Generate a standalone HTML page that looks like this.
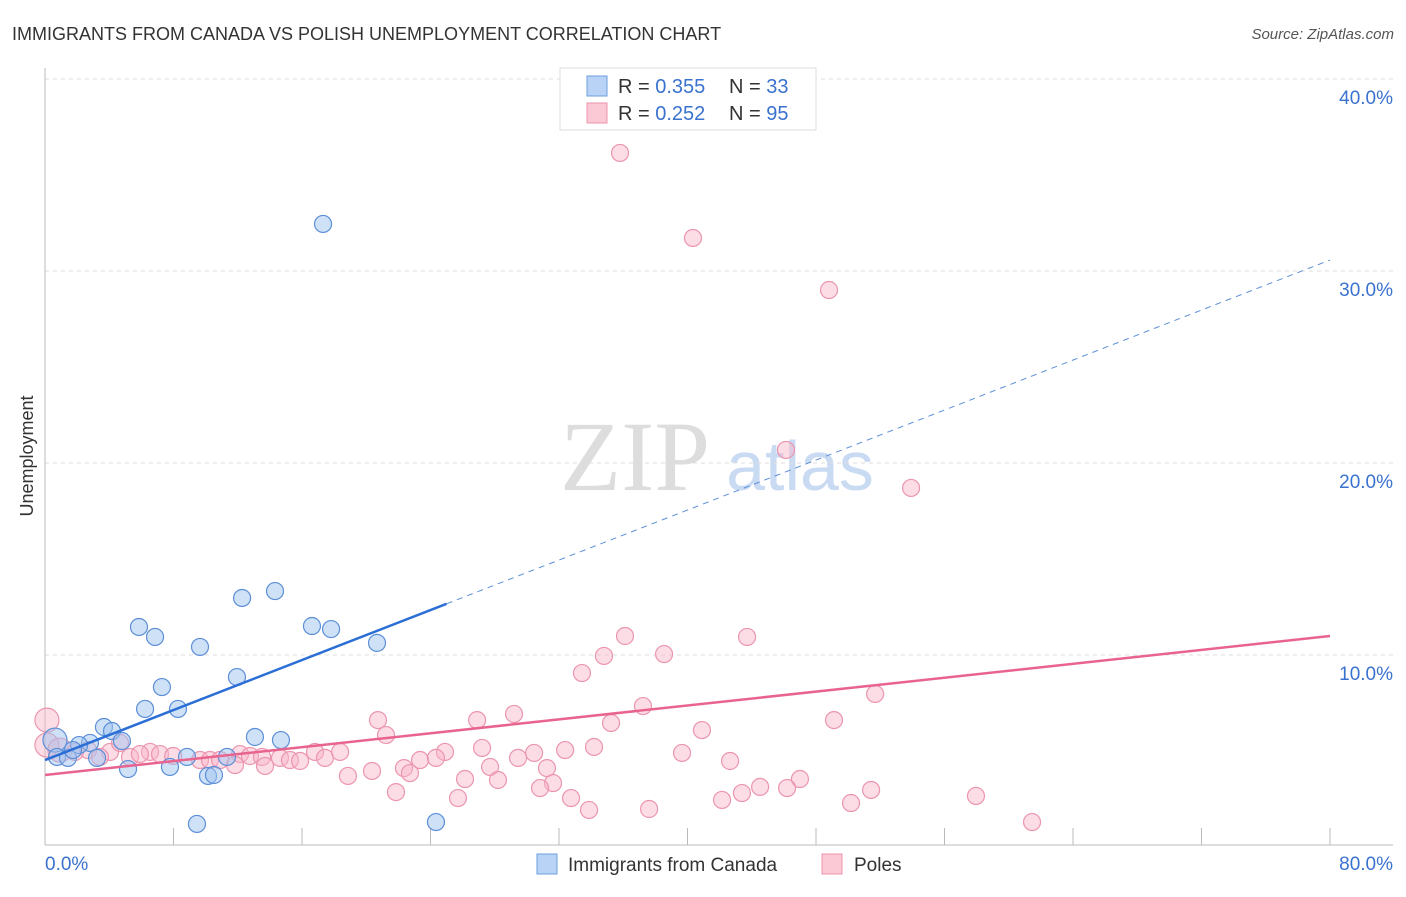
<!DOCTYPE html>
<html><head><meta charset="utf-8"><style>
body{margin:0;background:#fff;font-family:"Liberation Sans",sans-serif}
</style></head><body>
<svg id="chart" width="1406" height="892" xmlns="http://www.w3.org/2000/svg" font-family="Liberation Sans, sans-serif">
<text x="12" y="40" font-size="18" fill="#333">IMMIGRANTS FROM CANADA VS POLISH UNEMPLOYMENT CORRELATION CHART</text>
<text x="1394" y="39" font-size="15" fill="#555" text-anchor="end" font-style="italic">Source: ZipAtlas.com</text>
<text transform="translate(33,456) rotate(-90)" font-size="18" fill="#333" text-anchor="middle">Unemployment</text>
<g>
<text x="635" y="490" font-size="100" fill="#ddd" text-anchor="middle" style="font-family:'Liberation Serif',serif">ZIP</text>
<text x="800" y="490" font-size="70" fill="#c9daf3" text-anchor="middle">atlas</text>
</g>
<g id="grid"></g><g id="axes"></g><g id="marks"></g>
<g>
<rect x="560" y="68" width="256" height="62" fill="#fff" stroke="#ddd"/>
<rect x="587" y="76" width="20" height="20" fill="#b8d3f5" stroke="#6e9fdf"/>
<rect x="587" y="103" width="20" height="20" fill="#fbc8d6" stroke="#eb95ae"/>
<text x="618" y="93" font-size="20" fill="#333">R = <tspan fill="#3a72cf">0.355</tspan></text>
<text x="729" y="93" font-size="20" fill="#333">N = <tspan fill="#3a72cf">33</tspan></text>
<text x="618" y="120" font-size="20" fill="#333">R = <tspan fill="#3a72cf">0.252</tspan></text>
<text x="729" y="120" font-size="20" fill="#333">N = <tspan fill="#3a72cf">95</tspan></text>
</g>
<g>
<rect x="537" y="854" width="20" height="20" fill="#b8d3f5" stroke="#6e9fdf"/>
<text x="568" y="871" font-size="19" fill="#333">Immigrants from Canada</text>
<rect x="822" y="854" width="20" height="20" fill="#fbc8d6" stroke="#eb95ae"/>
<text x="854" y="871" font-size="19" fill="#333">Poles</text>
</g>
</svg>
<script>
const blueX=[17.31,14.32,12.27,5.85,6.85,16.62,17.81,20.67,9.65,11.95,7.28,6.23,8.28,3.67,4.17,13.07,14.69,4.79,2.80,2.12,0.62,0.75,1.43,3.24,1.74,8.84,11.33,5.17,7.78,10.15,10.52,9.46,24.34];
const blueY=[32.45,13.33,12.97,11.46,10.94,11.51,11.35,10.63,10.42,8.85,8.33,7.19,7.19,6.25,6.04,5.73,5.57,5.52,5.42,5.31,5.57,4.69,4.64,4.64,5.05,4.69,4.69,4.06,4.17,3.70,3.75,1.20,1.30];
const pinkX=[35.80,40.34,48.81,46.13,53.92,36.11,43.71,34.80,38.54,33.43,51.68,37.23,20.73,26.90,29.20,35.24,49.12,21.23,40.90,27.21,34.18,30.45,32.38,39.66,42.65,24.90,23.35,24.34,29.45,27.71,22.35,22.72,31.25,20.36,18.86,26.15,28.20,31.63,47.00,44.52,46.20,43.39,42.15,32.75,30.82,21.85,25.71,57.96,51.43,50.18,37.61,33.87,61.45,0.12,0.12,0.93,1.87,2.68,4.05,4.67,5.29,6.54,7.16,7.98,9.65,10.27,10.90,12.14,12.76,13.51,14.63,15.25,15.88,16.81,17.43,18.37,3.42,11.83,13.70,5.91];
const pinkY=[36.15,31.72,29.01,20.68,18.70,10.99,10.94,9.95,10.05,9.06,7.97,7.34,6.61,6.61,6.93,6.46,6.61,5.83,6.09,5.16,5.21,4.90,5.05,4.90,4.48,4.95,4.53,4.64,4.64,4.17,4.11,3.85,4.11,3.96,3.70,3.54,3.49,3.33,3.54,3.13,3.07,2.81,2.45,2.55,3.07,2.86,2.55,2.66,2.97,2.29,1.98,1.93,1.30,6.61,5.31,5.05,4.95,5.05,4.95,5.42,4.69,4.95,4.84,4.74,4.53,4.53,4.53,4.84,4.74,4.69,4.64,4.53,4.48,4.95,4.64,4.95,4.69,4.27,4.22,4.84];
const blueTrend=[4.53,30.57];
const pinkTrend=[3.75,10.99];
const blueSolidEnd=25;
const yTicks=[10,20,30,40];
const yTickLabels=["10.0%","20.0%","30.0%","40.0%"];
const xTickCount=10;
const NS="http://www.w3.org/2000/svg";
const X=v=>45+v/80*1285, Y=v=>847-v*19.2;
function mk(tag,attrs,parent){const e=document.createElementNS(NS,tag);for(const k in attrs)e.setAttribute(k,attrs[k]);document.getElementById(parent).appendChild(e);return e;}
yTicks.forEach((t,i)=>{
 const g=mk('line',{x1:45,x2:1393,y1:Y(t),y2:Y(t),stroke:'#ddd','stroke-dasharray':'4,4'},'grid');
 
 
 const l=mk('text',{x:1393,y:Y(t)+25,'font-size':19,fill:'#3a72cf','text-anchor':'end'},'axes');
 l.textContent=yTickLabels[i];
 
 
});
const ya=mk('line',{x1:45,x2:45,y1:68,y2:845,stroke:'#bbb'},'axes');


const xa=mk('line',{x1:45,x2:1393,y1:845,y2:845,stroke:'#bbb'},'axes');


for(let i=1;i<=xTickCount;i++){const t=mk('line',{x1:X(i*8),x2:X(i*8),y1:828,y2:845,stroke:'#bbb'},'axes');
 
 }
[["0.0%",45,"start"],["80.0%",1393,"end"]].forEach(a=>{const t=mk('text',{x:a[1],y:870,'font-size':19,fill:'#3a72cf','text-anchor':a[2]},'axes');t.textContent=a[0];
 
 });
function pts(xs,ys,fill,stroke,name){xs.forEach((x,i)=>{const big=(x<1&&ys[i]>5);const c=mk('circle',{cx:X(x),cy:Y(ys[i]),r:big?12:8.5,fill:fill,stroke:stroke,'stroke-width':1.2},'marks');
 
 });}
pts(pinkX,pinkY,'rgba(248,180,200,0.45)','#eb95ae','poles-point');
pts(blueX,blueY,'rgba(160,195,240,0.5)','#5c8fd8','canada-point');
const bAt=x=>blueTrend[0]+(blueTrend[1]-blueTrend[0])*x/80;
let l1=mk('line',{x1:X(0),y1:Y(bAt(0)),x2:X(blueSolidEnd),y2:Y(bAt(blueSolidEnd)),stroke:'#2b6fd6','stroke-width':2.5},'marks');


let l2=mk('line',{x1:X(blueSolidEnd),y1:Y(bAt(blueSolidEnd)),x2:X(80),y2:Y(bAt(80)),stroke:'#5c8fd8','stroke-width':1,'stroke-dasharray':'6,5'},'marks');


let l3=mk('line',{x1:X(0),y1:Y(pinkTrend[0]),x2:X(80),y2:Y(pinkTrend[1]),stroke:'#e8648f','stroke-width':2.5},'marks');


</script>
</body></html>
